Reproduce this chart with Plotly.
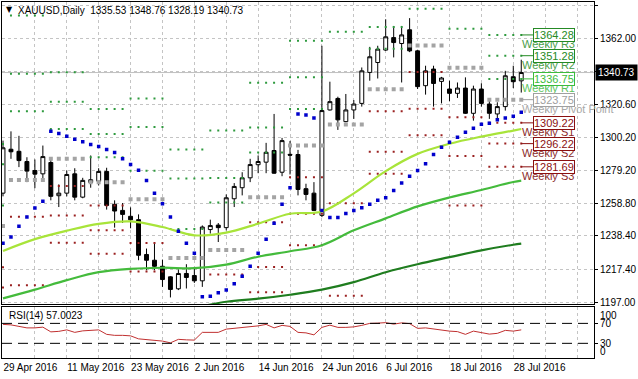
import plotly.graph_objects as go

# ---------------- data ----------------
dates_lbl = ["29 Apr 2016", "11 May 2016", "23 May 2016", "2 Jun 2016", "14 Jun 2016",
             "24 Jun 2016", "6 Jul 2016", "18 Jul 2016", "28 Jul 2016"]

opens = [1265.2, 1292.7, 1291.4, 1285.0, 1279.4, 1277.3, 1284.4, 1263.6, 1265.2, 1277.3,
         1262.7, 1271.9, 1272.7, 1278.8, 1258.2, 1254.4, 1250.7, 1248.6, 1226.8, 1223.2,
         1219.4, 1212.8, 1205.3, 1214.9, 1213.6, 1210.3, 1242.4, 1245.2, 1243.6, 1261.7,
         1268.6, 1274.8, 1283.0, 1284.6, 1291.9, 1278.3, 1289.5, 1289.4, 1268.0, 1265.2,
         1251.3, 1317.3, 1324.5, 1310.0, 1317.3, 1321.4, 1340.8, 1347.0, 1354.8, 1362.6,
         1358.9, 1367.5, 1354.3, 1332.5, 1342.9, 1335.2, 1330.4, 1327.7, 1331.0, 1315.2,
         1330.4, 1321.0, 1314.8, 1319.4, 1338.1, 1335.53]
highs = [1298.1, 1303.9, 1301.1, 1287.7, 1286.3, 1295.0, 1286.7, 1270.7, 1279.4, 1280.8,
         1274.8, 1288.8, 1280.8, 1281.1, 1260.7, 1259.0, 1256.3, 1251.9, 1230.5, 1234.0,
         1223.6, 1213.2, 1217.4, 1220.7, 1219.0, 1245.0, 1248.6, 1246.5, 1264.4, 1271.5,
         1278.3, 1286.7, 1288.8, 1296.7, 1314.8, 1299.8, 1297.9, 1292.3, 1271.1, 1272.1,
         1357.5, 1335.0, 1325.6, 1327.3, 1323.5, 1343.9, 1356.8, 1357.5, 1374.1, 1369.9,
         1369.9, 1374.8, 1355.0, 1345.0, 1345.0, 1338.0, 1335.6, 1334.5, 1337.7, 1332.5,
         1334.0, 1324.2, 1322.1, 1341.8, 1345.0, 1348.76]
lows = [1263.2, 1286.7, 1281.5, 1272.1, 1268.3, 1274.2, 1260.7, 1256.5, 1263.2, 1260.7,
        1262.0, 1268.6, 1270.0, 1254.9, 1243.6, 1246.5, 1243.2, 1223.2, 1216.9, 1216.9,
        1206.5, 1199.9, 1204.5, 1205.5, 1209.0, 1206.5, 1239.9, 1234.6, 1241.9, 1256.5,
        1263.8, 1272.1, 1277.7, 1277.7, 1277.3, 1275.8, 1276.9, 1263.8, 1260.7, 1254.0,
        1250.2, 1316.9, 1304.8, 1309.6, 1311.7, 1319.4, 1335.6, 1337.0, 1354.3, 1350.2,
        1334.5, 1353.5, 1330.4, 1326.9, 1319.4, 1321.4, 1322.7, 1324.8, 1314.8, 1310.6,
        1319.4, 1311.7, 1311.1, 1316.9, 1331.0, 1328.19]
closes = [1293.6, 1291.1, 1285.6, 1279.0, 1277.1, 1288.1, 1263.2, 1265.2, 1276.9, 1262.7,
          1273.2, 1273.6, 1278.8, 1257.5, 1254.0, 1251.9, 1248.5, 1226.3, 1223.2, 1219.4,
          1211.1, 1204.9, 1214.9, 1212.4, 1210.3, 1244.0, 1244.9, 1243.6, 1262.3, 1269.4,
          1274.8, 1283.1, 1285.0, 1290.8, 1277.7, 1298.1, 1289.0, 1267.5, 1264.4, 1254.4,
          1316.9, 1322.5, 1311.1, 1317.3, 1321.0, 1341.8, 1350.6, 1355.4, 1363.1, 1359.5,
          1364.3, 1354.3, 1331.9, 1341.8, 1333.9, 1337.3, 1327.7, 1331.0, 1315.2, 1330.4,
          1321.4, 1315.2, 1319.4, 1338.7, 1335.0, 1340.73]

sar = [1233.8, 1237.7, 1244.5, 1250.2, 1255.9, 1260.2, 1303.9, 1302.5, 1300.8, 1298.9,
       1297.4, 1295.6, 1294.4, 1292.6, 1290.6, 1286.8, 1283.1, 1279.6, 1273.1, 1265.2,
       1258.6, 1250.2, 1241.3, 1233.8, 1227.6, 1200.3, 1200.7, 1202.8, 1204.5, 1208.5,
       1213.2, 1219.4, 1227.6, 1236.4, 1246.3, 1258.2, 1268.6, 1314.8, 1314.2, 1312.2,
       1254.4, 1250.0, 1250.0, 1252.5, 1254.4, 1256.1, 1258.2, 1260.7, 1262.3, 1266.9,
       1271.5, 1275.8, 1279.4, 1283.6, 1289.4, 1293.9, 1297.1, 1300.2, 1303.3, 1305.8,
       1308.4, 1308.9, 1311.2, 1312.2, 1313.4, 1315.8]

rsi = [68, 67, 64, 61, 61, 62.5, 53, 54, 57, 52, 55, 56, 57, 48, 46, 46, 45, 39, 37.5, 36.5,
       34.5, 31, 38, 37, 36.5, 52, 52, 52, 58.5, 60, 61.5, 64, 65, 68, 61, 66, 64, 52, 51, 47,
       62, 66.5, 62, 62, 63, 66, 70, 70.5, 71.5, 68.5, 71, 69.5, 60, 61, 58.5, 56.5, 54.5,
       53.5, 48, 54.5, 51, 48.5, 50, 56, 54.5, 57.0]

ma_idx = [0, 4, 8, 12, 16, 20, 24, 28, 32, 36, 40, 44, 48, 52, 56, 60, 64, 65]
ma_fast = [1229.0, 1236.4, 1241.7, 1246.0, 1247.5, 1244.0, 1238.8, 1240.5, 1246.1, 1252.3,
           1253.7, 1265.1, 1279.0, 1289.8, 1296.1, 1300.6, 1304.4, 1305.4]
ma_mid = [1199.3, 1204.8, 1210.7, 1215.7, 1217.8, 1218.5, 1218.2, 1220.4, 1225.4, 1228.8,
          1232.6, 1241.9, 1249.4, 1256.9, 1262.5, 1267.2, 1272.2, 1273.1]
ma_slow_idx = [20, 24, 28, 32, 36, 40, 44, 48, 52, 56, 60, 64, 65]
ma_slow = [1190.5, 1193.5, 1197.2, 1199.1, 1201.6, 1204.8, 1209.5, 1215.7, 1220.7, 1225.1,
           1229.4, 1232.9, 1233.6]

week_start = [0, 1, 6, 11, 16, 21, 26, 31, 36, 41, 46, 51, 56, 61]
piv_p = [1244.7, 1273.5, 1286.8, 1272.1, 1261.4, 1224.6, 1229.6, 1262.6, 1295.0, 1308.2, 1330.2, 1357.6, 1343.8, 1323.75]
piv_r1 = [1257.4, 1316.5, 1305.3, 1287.7, 1279.2, 1242.7, 1259.3, 1290.6, 1317.9, 1366.2, 1355.6, 1380.7, 1368.2, 1336.75]
piv_r2 = [1283.3, 1340.0, 1322.4, 1302.3, 1306.6, 1274.4, 1274.7, 1306.3, 1337.7, 1415.5, 1369.3, 1397.2, 1399.2, 1351.28]
piv_r3 = [1296.0, 1376.5, 1340.9, 1317.9, 1324.4, 1292.5, 1304.4, 1334.3, 1360.6, 1474.0, 1394.7, 1420.3, 1423.6, 1364.28]
piv_s1 = [1218.8, 1250.5, 1269.7, 1257.5, 1234.0, 1192.9, 1214.2, 1246.9, 1275.2, 1258.9, 1316.5, 1341.1, 1312.8, 1309.22]
piv_s2 = [1206.1, 1207.5, 1251.2, 1241.9, 1216.2, 1174.8, 1184.5, 1218.9, 1252.3, 1200.9, 1291.1, 1318.0, 1288.4, 1296.22]
piv_s3 = [1180.5, 1184.0, 1234.1, 1227.3, 1188.8, 1143.0, 1169.1, 1203.2, 1232.5, 1151.6, 1277.4, 1301.5, 1257.4, 1281.69]

price_ticks = [1197.0, 1217.4, 1238.4, 1258.8, 1279.2, 1300.2, 1320.6, 1341.4, 1362.0, 1383.0]

# ---------------- helpers ----------------
n = len(closes)
idx = list(range(n))


def expand(levels):
    xs, ys = [], []
    for k, s in enumerate(week_start):
        e = week_start[k + 1] if k + 1 < len(week_start) else n
        for b in range(s, e):
            xs.append(b)
            ys.append(levels[k])
    return xs, ys


FONT = "Liberation Sans"
GRID = "#c4c4c4"
fig = go.Figure()

# pivot dotted levels
piv_specs = [
    (piv_r3, "#2e9a3e", 2, "square"), (piv_r2, "#2e9a3e", 2, "square"), (piv_r1, "#2e9a3e", 2, "square"),
    (piv_s1, "#9a2020", 2, "square"), (piv_s2, "#9a2020", 2, "square"), (piv_s3, "#9a2020", 2, "square"),
    (piv_p, "#a4a4a4", 4, "square"),
]
for lv, col, sz, sym in piv_specs:
    xs, ys = expand(lv)
    fig.add_trace(go.Scatter(x=xs, y=ys, mode="markers", xaxis="x", yaxis="y",
                             marker=dict(color=col, size=sz, symbol=sym, line=dict(width=0)),
                             showlegend=False, hoverinfo="skip"))

# moving averages
fig.add_trace(go.Scatter(x=ma_slow_idx, y=ma_slow, mode="lines", line=dict(color="#1f7d1f", width=2.2, shape="spline"),
                         xaxis="x", yaxis="y", showlegend=False))
fig.add_trace(go.Scatter(x=ma_idx, y=ma_mid, mode="lines", line=dict(color="#44bb3c", width=2.2, shape="spline"),
                         xaxis="x", yaxis="y", showlegend=False))
fig.add_trace(go.Scatter(x=ma_idx, y=ma_fast, mode="lines", line=dict(color="#a8e43a", width=2.2, shape="spline"),
                         xaxis="x", yaxis="y", showlegend=False))

# candles
fig.add_trace(go.Candlestick(x=idx, open=opens, high=highs, low=lows, close=closes,
                             xaxis="x", yaxis="y",
                             increasing=dict(line=dict(color="black", width=1), fillcolor="white"),
                             decreasing=dict(line=dict(color="black", width=1), fillcolor="black"),
                             whiskerwidth=0, showlegend=False))

# parabolic SAR
fig.add_trace(go.Scatter(x=idx, y=sar, mode="markers", xaxis="x", yaxis="y",
                         marker=dict(color="#0000cc", size=3.5, symbol="square", line=dict(width=0)),
                         showlegend=False))

# RSI
fig.add_trace(go.Scatter(x=idx, y=rsi, mode="lines", line=dict(color="#c03030", width=1),
                         xaxis="x2", yaxis="y2", showlegend=False))

xr = [-0.125, 74.125]
grid_x = list(range(0, 75, 4))
grid_txt = [dates_lbl[g // 8] if (g % 8 == 0 and g // 8 < len(dates_lbl)) else "" for g in grid_x]

axis_common = dict(showline=True, linecolor="black", linewidth=1, mirror=True, zeroline=False,
                   gridcolor=GRID, griddash="3px,3px", gridwidth=1)

fig.update_layout(
    width=638, height=379, margin=dict(l=2, r=42, t=1, b=21),
    paper_bgcolor="white", plot_bgcolor="white",
    font=dict(family=FONT, size=10, color="black"),
    xaxis=dict(domain=[0, 1], anchor="y", range=xr, tickvals=grid_x, showticklabels=False,
               showgrid=True, rangeslider=dict(visible=False), ticks="", **axis_common),
    xaxis2=dict(domain=[0, 1], anchor="y2", range=xr, tickvals=grid_x, ticktext=grid_txt,
                showgrid=True, ticks="", ticklabelposition="outside right", tickangle=0,
                tickfont=dict(family=FONT, size=10, color="black"), **axis_common),
    yaxis=dict(domain=[0.1513, 1], anchor="x", side="right", range=[1195.7, 1384.9],
               tickvals=price_ticks,
               ticktext=["%.2f" % v if abs(v - 1341.4) > 0.01 else "" for v in price_ticks],
               showgrid=True, ticks="outside", ticklen=3, tickcolor="black",
               tickfont=dict(family=FONT, size=10, color="black"), **axis_common),
    yaxis2=dict(domain=[0, 0.1429], anchor="x2", side="right", range=[0.6, 102.6],
                tickvals=[70, 30], ticktext=["70", "30"], showgrid=False,
                ticks="outside", ticklen=3, tickcolor="black",
                tickfont=dict(family=FONT, size=10, color="black"), **axis_common),
    hovermode=False,
)

shapes = []
# bid line
shapes.append(dict(type="line", xref="x domain", yref="y", x0=0, x1=1, y0=closes[-1], y1=closes[-1],
                   line=dict(color="#c0c0c0", width=1), layer="below"))
# RSI levels
for lv in (70, 30):
    shapes.append(dict(type="line", xref="x2 domain", yref="y2", x0=0, x1=1, y0=lv, y1=lv,
                       line=dict(color="black", width=1, dash="10px,6px")))
fig.update_layout(shapes=shapes)

ann = []
ann.append(dict(xref="paper", yref="paper", x=0, y=1, xanchor="left", yanchor="top", xshift=2, yshift=-1,
                text="▼", showarrow=False, font=dict(family="DejaVu Sans", size=8, color="black")))
ann.append(dict(xref="paper", yref="paper", x=0, y=1, xanchor="left", yanchor="top", xshift=14, yshift=-1,
                text="XAUUSD,Daily  %.2f %.2f %.2f %.2f" % (opens[-1], highs[-1], lows[-1], closes[-1]),
                showarrow=False, font=dict(family=FONT, size=10, color="black")))
ann.append(dict(xref="paper", yref="y2", x=0, y=86, xanchor="left", yanchor="middle", xshift=5,
                text="RSI(14) 57.0023", showarrow=False, font=dict(family=FONT, size=10, color="black")))
ann.append(dict(xref="paper", yref="y2", x=1, y=86, xanchor="left", yanchor="middle", xshift=4,
                text="100", showarrow=False, font=dict(family=FONT, size=10, color="black")))
ann.append(dict(xref="paper", yref="y2", x=1, y=13, xanchor="left", yanchor="middle", xshift=4,
                text="0", showarrow=False, font=dict(family=FONT, size=10, color="black")))
# current price tag
ann.append(dict(xref="paper", yref="y", x=1, y=closes[-1], xanchor="left", yanchor="middle", xshift=1,
                text="%.2f" % closes[-1], showarrow=False, bgcolor="black", borderpad=2,
                font=dict(family=FONT, size=10, color="white")))

# weekly labels
last = n - 1
lab_specs = [
    ("Weekly R3", piv_r3[-1], "#258a25", "#4a9e4a"),
    ("Weekly R2", piv_r2[-1], "#258a25", "#4a9e4a"),
    ("Weekly R1", piv_r1[-1], "#3cbc3c", "#5cc25c"),
    ("Weekly Pivot Point", piv_p[-1], "#a0a0a0", "#a8a8a8"),
    ("Weekly S1", piv_s1[-1], "#8b1010", "#8b2a2a"),
    ("Weekly S2", piv_s2[-1], "#8b1010", "#8b2a2a"),
    ("Weekly S3", piv_s3[-1], "#8b1010", "#8b2a2a"),
]
for name, v, bc, tc in lab_specs:
    ann.append(dict(xref="x", yref="y", x=last - 0.1, y=v, xanchor="left", yanchor="middle", yshift=-9,
                    text=name, showarrow=False, font=dict(family=FONT, size=11, color=tc)))
for name, v, bc, tc in lab_specs:
    ann.append(dict(xref="x", yref="y", x=last, y=v, ax=33, ay=0, showarrow=True, arrowhead=0,
                    arrowwidth=1, arrowcolor=bc, text="%.2f" % v, bgcolor="white", bordercolor=bc,
                    borderwidth=1, borderpad=0, font=dict(family=FONT, size=11, color=bc)))
fig.update_layout(annotations=ann)

fig.write_html("out.html", config={"displayModeBar": False},
               post_script="document.body.style.margin='0';document.body.style.overflow='hidden';")
